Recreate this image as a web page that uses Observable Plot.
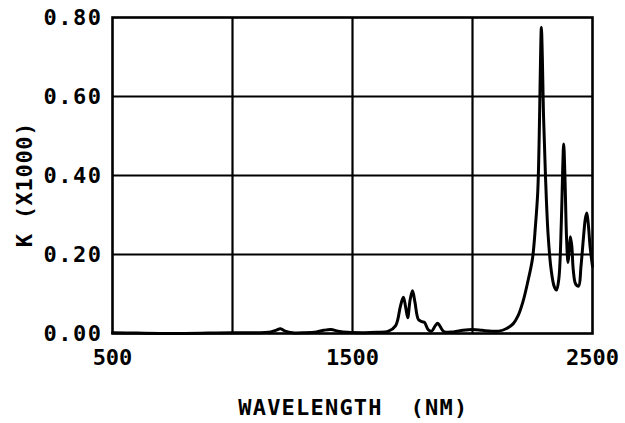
<!DOCTYPE html>
<html>
<head>
<meta charset="utf-8">
<script src="https://cdn.jsdelivr.net/npm/d3@7"></script>
<script src="https://cdn.jsdelivr.net/npm/@observablehq/plot@0.6"></script>
<style>
  html, body { margin: 0; padding: 0; background: #fff; }
  #chart svg { font-family: "DejaVu Sans Mono", monospace; font-weight: bold; }
  #chart svg .ylab text { letter-spacing: 1.5px; }
  #chart svg .xname text { letter-spacing: 1.2px; }
  #chart svg .yname text { letter-spacing: 0.7px; }
</style>
</head>
<body>
<div id="chart"></div>
<script>
const wavelength = [500, 600, 700, 800, 900, 1000, 1100, 1150, 1180, 1200, 1220, 1250, 1300, 1350, 1380, 1410, 1440, 1480, 1550, 1600, 1650, 1680, 1700, 1712, 1722, 1730, 1740, 1750, 1760, 1775, 1790, 1800, 1815, 1830, 1845, 1855, 1865, 1880, 1920, 1960, 2000, 2040, 2080, 2110, 2140, 2170, 2190, 2210, 2230, 2250, 2262, 2272, 2278, 2283, 2287, 2291, 2296, 2304, 2315, 2328, 2340, 2350, 2360, 2370, 2376, 2380, 2385, 2392, 2398, 2403, 2408, 2414, 2420, 2430, 2442, 2452, 2462, 2470, 2476, 2482, 2490, 2500];
const kValues = [0.002, 0.001, 0.0, 0.0, 0.001, 0.002, 0.002, 0.003, 0.008, 0.012, 0.006, 0.002, 0.002, 0.004, 0.008, 0.010, 0.006, 0.003, 0.002, 0.003, 0.006, 0.02, 0.07, 0.092, 0.065, 0.04, 0.085, 0.108, 0.08, 0.035, 0.03, 0.028, 0.01, 0.006, 0.02, 0.026, 0.018, 0.005, 0.004, 0.008, 0.010, 0.008, 0.006, 0.006, 0.012, 0.025, 0.045, 0.08, 0.13, 0.19, 0.27, 0.36, 0.5, 0.68, 0.775, 0.70, 0.55, 0.40, 0.25, 0.16, 0.12, 0.11, 0.14, 0.28, 0.42, 0.48, 0.40, 0.24, 0.18, 0.21, 0.245, 0.22, 0.16, 0.125, 0.12, 0.17, 0.24, 0.29, 0.305, 0.28, 0.22, 0.17];
const xTicks = [500, 1500, 2500];
const xGrid = [1000, 1500, 2000];
const yTicks = [0, 0.2, 0.4, 0.6, 0.8];
const yGrid = [0.2, 0.4, 0.6];
const xLabelParts = ["WAVELENGTH", "(NM)"];
const yLabel = "K (X1000)";

const data = wavelength.map((w, i) => ({w, k: kValues[i]}));

const chart = Plot.plot({
  width: 625,
  height: 423,
  marginLeft: 112,
  marginRight: 33,
  marginTop: 17,
  marginBottom: 90,
  x: {domain: [500, 2500]},
  y: {domain: [0, 0.8]},
  marks: [
    Plot.gridX(xGrid, {stroke: "black", strokeOpacity: 1, strokeWidth: 2.2}),
    Plot.gridY(yGrid, {stroke: "black", strokeOpacity: 1, strokeWidth: 2.2}),
    Plot.axisY(yTicks, {tickSize: 0, tickPadding: 10, tickFormat: d => d.toFixed(2), fontSize: 22, label: null, className: "ylab"}),
    Plot.axisX(xTicks, {tickSize: 0, tickPadding: 16, tickFormat: d => String(d), fontSize: 22, label: null, className: "xlab"}),
    Plot.line(data, {x: "w", y: "k", curve: "catmull-rom", stroke: "black", strokeWidth: 3}),
    Plot.frame({stroke: "black", strokeWidth: 2.6}),
    Plot.text([xLabelParts[0]], {frameAnchor: "bottom", lineAnchor: "middle", dx: -42, dy: 74, fontSize: 22, fill: "black", text: d => d, className: "xname"}),
    Plot.text([xLabelParts[1]], {frameAnchor: "bottom", lineAnchor: "middle", dx: 87, dy: 74, fontSize: 22, fill: "black", text: d => d, className: "xname"}),
    Plot.text([yLabel], {frameAnchor: "left", textAnchor: "middle", lineAnchor: "middle", dx: -88, dy: 9, rotate: -90, fontSize: 22, fill: "black", text: d => d, className: "yname"})
  ]
});
document.getElementById("chart").appendChild(chart);
</script>
</body>
</html>
